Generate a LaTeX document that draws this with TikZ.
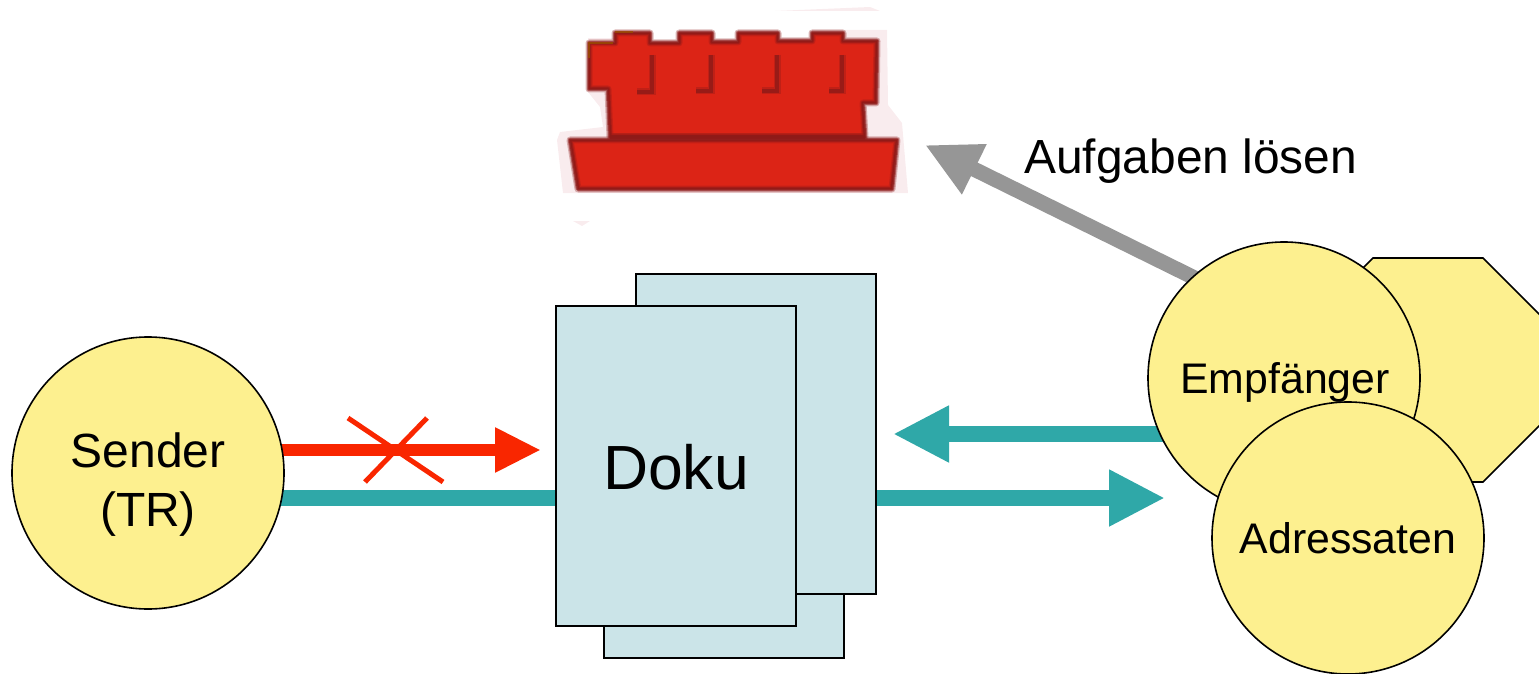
\documentclass[tikz,border=0pt]{standalone}
\usepackage{fontspec}
\setmainfont{Liberation Sans}
\usetikzlibrary{arrows.meta}
\definecolor{cYellow}{HTML}{FDF08F}
\definecolor{cDoc}{HTML}{CBE4E8}
\definecolor{cTeal}{HTML}{2FA8A8}
\definecolor{cRed}{HTML}{F92600}
\definecolor{cGray}{HTML}{969696}
\definecolor{cBrick}{HTML}{DC2416}
\definecolor{cBrickD}{HTML}{8E1A18}
\definecolor{cHalo}{HTML}{F9ECEE}
\tikzset{
  x=1pt,y=-1pt,
  party/.style={circle,draw=black,line width=1.6pt,fill=cYellow,minimum size=272pt,inner sep=0pt,outer sep=0pt,align=center,font=\fontsize{42.8}{50}\selectfont},
  page/.style={rectangle,draw=black,line width=1.6pt,fill=cDoc,minimum width=240pt,minimum height=320pt,inner sep=0pt,outer sep=0pt},
  tealarrow/.style={draw=cTeal,line width=16pt,-{Triangle[length=56pt,width=53pt,fill=cTeal]}},
  brickfill/.style={fill=cBrick},
  blurwide/.style={draw=cBrickD,line width=7pt,opacity=.3,line join=round},
  blurmid/.style={draw=cBrickD,line width=4.5pt,opacity=.55,line join=round},
  blurcore/.style={draw=cBrickD,line width=2.5pt,opacity=.8,line join=round},
  brickshade/.style={draw=cBrickD,line width=7pt,opacity=.35,line cap=butt},
  brickshadecore/.style={draw=cBrickD,line width=4.5pt,opacity=.8,line cap=butt},
}
\def\castletop{(589,43) -- (615,43) -- (615,33) -- (650,33) -- (650,43) -- (679,43) -- (679,33) -- (712,33) -- (712,42) -- (738,42) -- (738,33) -- (778,33) -- (778,41) -- (812,41) -- (812,33) -- (843,33) -- (843,41) -- (877,41) -- (876,103) -- (863,103) -- (865,137) -- (610,137) -- (608,89) -- (589,89) -- cycle}
\def\castlebase{(570,140) -- (897,140) -- (892,189) -- (578,189) -- cycle}
\begin{document}
\begin{tikzpicture}
\useasboundingbox (0,0) rectangle (1539,674);
% castle halo
\fill[cHalo] (588,92) -- (588,30) -- (887,30) -- (888,105) -- (902,123) -- (908,193) -- (563,193) -- (557,140) -- (560,132) -- (603,127) -- (600,107) -- cycle;
\fill[cHalo] (775,11) -- (870,7) -- (880,11) -- cycle;
\fill[cHalo] (573,221) -- (590,221) -- (582,226) -- cycle;
\fill[white] (650,25) rectangle (679,40);
\fill[white] (712,25) rectangle (738,39);
\fill[white] (778,25) rectangle (812,38);
\fill[white] (580,25) rectangle (614,38);
% castle
\foreach \part in {\castletop,\castlebase}{
  \fill[brickfill] \part;
  \draw[blurwide] \part;
  \draw[blurmid] \part;
  \draw[blurcore] \part;
}
\draw[brickshade] (610,137) -- (865,137);
\draw[brickshadecore] (610,137) -- (865,137);
\foreach \a/\b/\c in {652/92/637,711/91/696,777/91/762,842/91/829}{
  \draw[brickshade] (\a,55) -- (\a,\b) -- (\c,\b);
  \draw[brickshadecore] (\a,55) -- (\a,\b) -- (\c,\b);
}
\draw[draw=orange!60!black,line width=2.5pt,opacity=.8] (589,58) -- (589,43) -- (613,43);
\draw[draw=orange!60!black,line width=2.5pt,opacity=.8] (615,32) -- (633,32);
% free ends of connectors
\coordinate (redfrom) at (270,450);
\coordinate (redto) at (541,450);
\coordinate (tealfrom) at (270,498);
\coordinate (tealto) at (570,498);
\coordinate (backfrom) at (1175,434);
\coordinate (backto) at (893,434);
\coordinate (fwdfrom) at (860,498);
\coordinate (fwdto) at (1165,498);
\coordinate (grayfrom) at (1215,288);
\coordinate (grayto) at (925,145);
\coordinate (xa) at (348,418);
\coordinate (xb) at (443,482);
\coordinate (xc) at (427,418);
\coordinate (xd) at (365,482);
% connectors
\draw[cRed,line width=12.5pt,-{Triangle[length=46pt,width=42pt,fill=cRed]}] (redfrom) -- (redto);
\draw[cRed,line width=5pt] (xa) -- (xb);
\draw[cRed,line width=5pt] (xc) -- (xd);
\draw[cTeal,line width=16pt] (tealfrom) -- (tealto);
\draw[tealarrow] (backfrom) -- (backto);
\draw[tealarrow] (fwdfrom) -- (fwdto);
\draw[cGray,line width=15pt,-{Triangle[length=55pt,width=52pt,fill=cGray]}] (grayfrom) -- (grayto);
% documents
\node[page] (docC) at (724,498) {};
\node[page] (docB) at (756,434) {};
\node[page,font=\fontsize{62.4}{70}\selectfont] (doku) at (676,466) {\raisebox{-23pt}[0pt][0pt]{Doku}};
% receivers
\begin{scope}
\clip (0,0) rectangle (1539,674);
\draw[fill=cYellow,line width=1.6pt,line join=miter] (1373,258) -- (1483,258) -- (1540,315) -- (1540,425) -- (1483,482) -- (1373,482) -- (1316,425) -- (1316,315) -- cycle;
\end{scope}
\node[party,font=\fontsize{48}{59}\selectfont] (sender) at (148,473) {\raisebox{-18.7pt}[0pt][0pt]{\begin{tabular}{@{}c@{}}Sender\\(TR)\end{tabular}}};
\node[party] (empf) at (1284,378) {\hspace*{2pt}\raisebox{-15pt}[0pt][0pt]{Empfänger}};
\node[party] (adr) at (1348,538) {\raisebox{-15pt}[0pt][0pt]{Adressaten}};
\node[font=\fontsize{47.9}{54}\selectfont,anchor=base west,inner sep=0pt] (task) at (1024,173) {Aufgaben lösen};
\end{tikzpicture}
\end{document}
